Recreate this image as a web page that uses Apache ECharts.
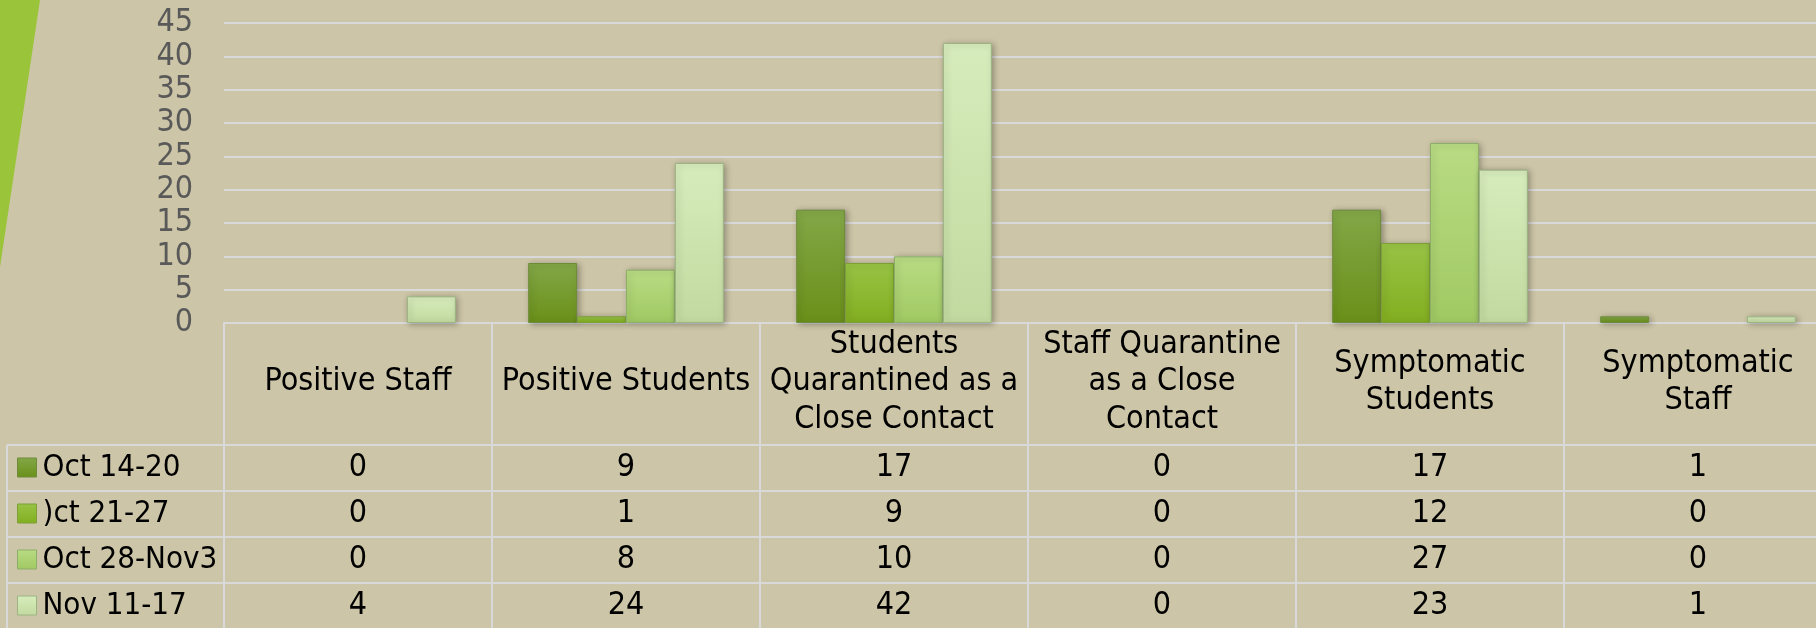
<!DOCTYPE html>
<html><head><meta charset="utf-8">
<script src="https://cdn.jsdelivr.net/npm/echarts@6/dist/echarts.min.js"></script>
<style>html,body{margin:0;padding:0;background:#CCC5A7;overflow:hidden;} #c{width:1816px;height:628px;}</style>
</head><body><div id="c"></div>
<script>
// ---- data ----
const categories = [
  'Positive Staff',
  'Positive Students',
  'Students\nQuarantined as a\nClose Contact',
  'Staff Quarantine\nas a Close\nContact',
  'Symptomatic\nStudents',
  'Symptomatic\nStaff'
];
const seriesNames = ['Oct 14-20', ')ct 21-27', 'Oct 28-Nov3', 'Nov 11-17'];
const oct14to20 = [0, 9, 17, 0, 17, 1];
const oct21to27 = [0, 1, 9, 0, 12, 0];
const oct28toNov3 = [0, 8, 10, 0, 27, 0];
const nov11to17 = [4, 24, 42, 0, 23, 1];
const yMin = 0, yMax = 45, yStep = 5;

// ---- styling ----
const FONT = "'DejaVu Sans Condensed', 'DejaVu Sans', sans-serif";
const FS = 32;
const LINE = '#D9D9D9';
const seriesValues = [oct14to20, oct21to27, oct28toNov3, nov11to17];
const palette = [
  { top: '#83A747', bottom: '#6A9019', border: '#6E8B3A' },
  { top: '#98C345', bottom: '#82AE20', border: '#7C9F36' },
  { top: '#B9DB84', bottom: '#A0C962', border: '#8DAE68' },
  { top: '#D7ECBC', bottom: '#C2DAA0', border: '#9CB482' }
];
function grad(p) {
  return new echarts.graphic.LinearGradient(0, 0, 0, 1, [
    { offset: 0, color: p.top }, { offset: 1, color: p.bottom }
  ]);
}

const chart = echarts.init(document.getElementById('c'), null, { renderer: 'canvas', width: 1816, height: 628 });

const GRID_TOP = 23, GRID_H = 300, ROW_H = 46, HEADER_H = 122;

const xAxes = [{
  type: 'category',
  data: categories,
  position: 'bottom',
  boundaryGap: true,
  axisLine: { show: true, lineStyle: { color: LINE, width: 2 } },
  axisTick: { show: true, length: 306, lineStyle: { color: LINE, width: 2 } },
  axisLabel: {
    interval: 0, margin: 59, verticalAlign: 'middle',
    fontFamily: FONT, fontSize: FS, lineHeight: 37.5, color: '#000'
  },
  splitLine: { show: false }
}];
seriesValues.forEach(function (vals, i) {
  xAxes.push({
    type: 'category',
    data: categories,
    position: 'bottom',
    offset: HEADER_H + ROW_H * i,
    axisLine: { show: true, lineStyle: { color: LINE, width: 2 } },
    axisTick: { show: false },
    axisLabel: {
      interval: 0, margin: 23, verticalAlign: 'middle',
      fontFamily: FONT, fontSize: FS, color: '#000',
      formatter: function (v, idx) { return String(vals[idx]); }
    },
    splitLine: { show: false }
  });
});

const graphics = [
  { type: 'polygon', shape: { points: [[0, 0], [40, 0], [0, 267]] }, style: { fill: '#9AC43A' }, z: 1 },
  { type: 'line', shape: { x1: 7, y1: 445, x2: 7, y2: 640 }, style: { stroke: LINE, lineWidth: 2 } }
];
for (let i = 0; i < seriesValues.length; i++) {
  const y = GRID_TOP + GRID_H + HEADER_H + ROW_H * i;
  graphics.push({ type: 'line', shape: { x1: 7, y1: y, x2: 224, y2: y }, style: { stroke: LINE, lineWidth: 2 } });
}

chart.setOption({
  backgroundColor: '#CCC5A7',
  animation: false,
  grid: { left: 224, top: GRID_TOP, width: 1608, height: GRID_H, containLabel: false, outerBoundsMode: 'none' },
  legend: {
    show: true, orient: 'vertical', left: 17, top: 452, height: 176, padding: 0,
    data: seriesNames, selectedMode: false,
    icon: 'rect', itemWidth: 19, itemHeight: 19, itemGap: 15,
    textStyle: { fontFamily: FONT, fontSize: 31, color: '#000', padding: [0, 0, 0, 1] },
    itemStyle: { shadowBlur: 0, borderWidth: 1 }
  },
  xAxis: xAxes,
  yAxis: {
    type: 'value', min: yMin, max: yMax, interval: yStep,
    axisLine: { show: false }, axisTick: { show: false },
    axisLabel: { fontFamily: FONT, fontSize: FS, color: '#595959', margin: 31 },
    splitLine: { show: true, lineStyle: { color: LINE, width: 2 } }
  },
  graphic: graphics,
  series: seriesNames.map(function (name, i) {
    return {
      type: 'bar', name: name, xAxisIndex: 0,
      data: seriesValues[i].map(function (v) {
        return v === 0 ? { value: v, itemStyle: { borderWidth: 0, shadowBlur: 0, opacity: 0 } } : v;
      }),
      barGap: '0%', barCategoryGap: '27%',
      itemStyle: {
        color: grad(palette[i]), borderColor: palette[i].border, borderWidth: 1,
        shadowBlur: 6, shadowColor: 'rgba(0,0,0,0.3)', shadowOffsetX: 2, shadowOffsetY: 1
      },
      emphasis: { disabled: true }
    };
  })
});
</script></body></html>
